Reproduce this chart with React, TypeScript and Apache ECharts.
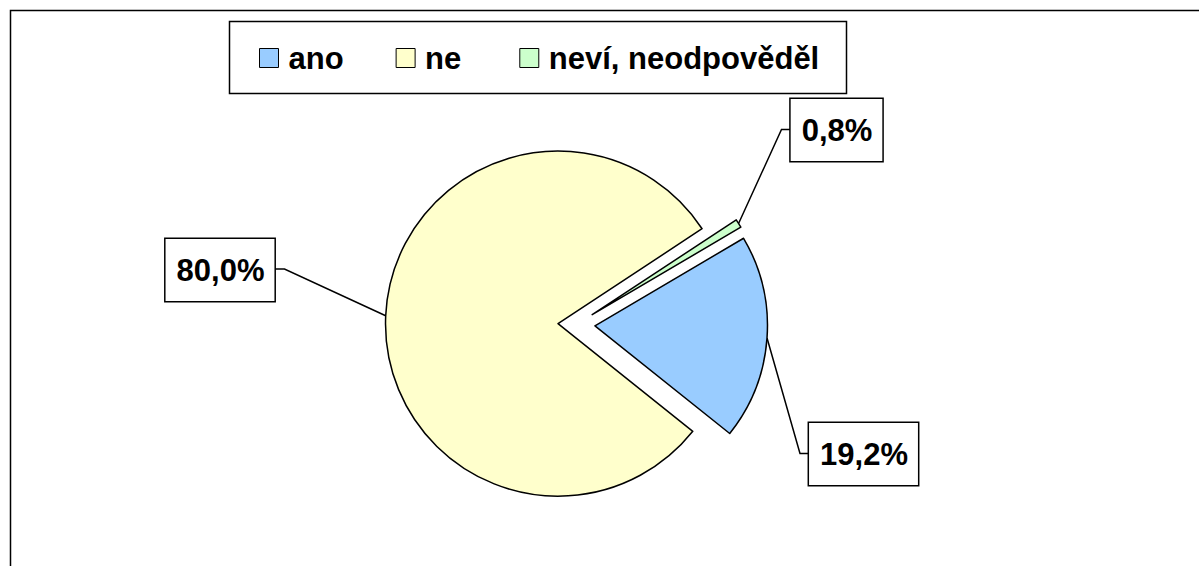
import React, { useEffect, useRef } from "react";
import * as echarts from "echarts";

const categories = ["ano", "ne", "neví, neodpověděl"];
const values = [19.2, 80.0, 0.8];
const labelTexts = ["19,2%", "80,0%", "0,8%"];
const colors = ["#99CCFF", "#FFFFCC", "#CCFFCC"];

// layout of label boxes (centres) and leader bend / end points
const labelCentres: [number, number][] = [
  [863.5, 454],
  [220, 270],
  [836.5, 130],
];
const labelBends: [number, number][][] = [
  [[800, 453.5], [809, 453.5]],
  [[284.5, 269], [275, 269]],
  [[781.5, 129.5], [791, 129.5]],
];

const FONT = "'Liberation Sans', Arial, Helvetica, sans-serif";
const PIE_CENTER = [576.5, 324.5];
const PIE_RADIUS = 172.5;
const START_ANGLE = 30.5;
const EXPLODE = 18.5;

export default function App() {
  const ref = useRef<HTMLDivElement>(null);
  useEffect(() => {
    if (!ref.current) return;
    const chart = echarts.init(ref.current, null, { renderer: "svg" });

    const total = values.reduce((a, b) => a + b, 0);
    let cum = 0;
    const mids = values.map((v) => {
      const m = START_ANGLE - ((cum + v / 2) / total) * 360;
      cum += v;
      return (m * Math.PI) / 180;
    });

    const series = values.map((_, k) => ({
      type: "pie",
      name: categories[k],
      center: [
        PIE_CENTER[0] + EXPLODE * Math.cos(mids[k]),
        PIE_CENTER[1] - EXPLODE * Math.sin(mids[k]),
      ],
      radius: PIE_RADIUS,
      startAngle: START_ANGLE,
      clockwise: true,
      avoidLabelOverlap: false,
      selectedMode: false,
      emphasis: { disabled: true },
      silent: true,
      label: {
        show: false,
        position: "outside",
        formatter: (p: any) => labelTexts[p.dataIndex],
        fontFamily: FONT,
        fontWeight: "bold",
        fontSize: 31,
        lineHeight: 36,
        color: "#000",
        backgroundColor: "#fff",
        borderColor: "#000",
        borderWidth: 1.5,
        padding: [13, 10, 13, 11],
      },
      labelLine: {
        show: false,
        lineStyle: { color: "#000", width: 1.5 },
      },
      labelLayout: (params: any) => {
        const i = params.dataIndex;
        if (i !== k) return {};
        const pts = params.labelLinePoints;
        const start = pts && pts[0] ? pts[0] : labelBends[i][0];
        return {
          x: labelCentres[i][0],
          y: labelCentres[i][1],
          align: "center",
          verticalAlign: "middle",
          labelLinePoints: [start, labelBends[i][0], labelBends[i][1]],
        };
      },
      data: categories.map((name, i) => ({
        name,
        value: values[i],
        itemStyle:
          i === k
            ? { color: colors[i], borderColor: "#000", borderWidth: 1.5 }
            : { color: "rgba(0,0,0,0)", borderColor: "rgba(0,0,0,0)", borderWidth: 0 },
        label: { show: i === k },
        labelLine: { show: i === k },
      })),
    }));

    const option: any = {
      animation: false,
      backgroundColor: "#ffffff",
      graphic: [
        {
          type: "rect",
          shape: { x: 10.5, y: 10.5, width: 1400, height: 800 },
          style: { fill: "none", stroke: "#000", lineWidth: 1.5 },
          silent: true,
          z: 0,
        },
        {
          type: "rect",
          shape: { x: 229.5, y: 21.5, width: 617, height: 72 },
          style: { fill: "#fff", stroke: "#000", lineWidth: 1.5 },
          silent: true,
          z: 0,
        },
      ],
      legend: {
        data: categories.map((name, i) => ({
          name,
          itemStyle: { color: colors[i], borderColor: "#000", borderWidth: 1 },
          textStyle: { padding: i === 1 ? [0, 6, 0, 5] : [0, 0, 0, 5] },
        })),
        left: 259,
        top: 40,
        padding: 0,
        itemWidth: 19,
        itemHeight: 19,
        itemGap: 52,
        icon: "rect",
        selectedMode: false,
        z: 5,
        textStyle: {
          fontFamily: FONT,
          fontWeight: "bold",
          fontSize: 31,
          lineHeight: 36,
          color: "#000",
          padding: [0, 0, 0, 5],
        },
      },
      series,
    };
    chart.setOption(option);
    return () => chart.dispose();
  }, []);
  return (
    <div
      ref={ref}
      style={{ position: "absolute", left: 0, top: 0, width: 1199, height: 566 }}
    />
  );
}
